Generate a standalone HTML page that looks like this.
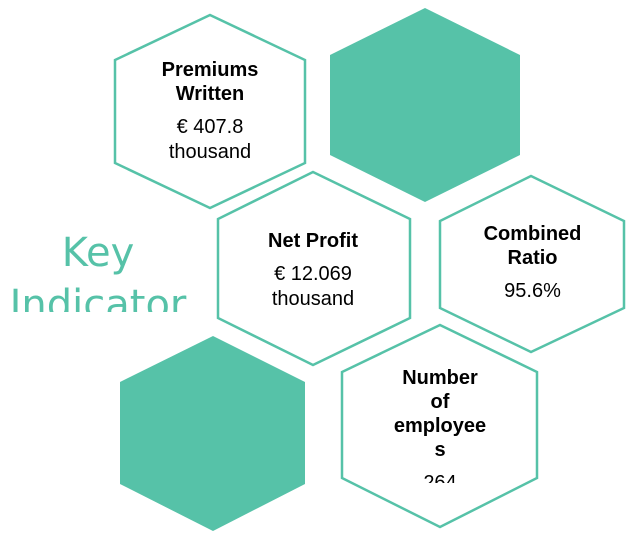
<!DOCTYPE html>
<html><head><meta charset="utf-8"><style>
body{margin:0;width:633px;height:537px;background:#fff;position:relative;overflow:hidden;font-family:"Liberation Sans",Arial,sans-serif}
svg{position:absolute;left:0;top:0}
.t{position:absolute;text-align:center;color:#000;font-size:20px;line-height:25px;overflow:hidden}
.t b{display:block;font-size:20px;line-height:24px;margin-bottom:9px}
</style></head><body>
<svg width="633" height="537">
<g fill="#fff" stroke="#56c2a8" stroke-width="2.5">
<polygon points="210,15 115,60 115,163 210,208 305,163 305,60"/>
<polygon points="313,172 218,219 218,318 313,365 410,318 410,219"/>
<polygon points="531,176 440,221 440,308 531,352 624,308 624,221"/>
<polygon points="440,325 342,372 342,478 440,527 537,478 537,372"/>
</g>
<g fill="#56c2a8">
<polygon points="425,8 330,55 330,155 425,202 520,155 520,55"/>
<polygon points="213,336 120,382 120,484 213,531 305,484 305,382"/>
</g>
</svg>
<div style="position:absolute;left:0;top:227px;width:196px;height:85px;overflow:hidden;text-align:center;color:#56c2a8;font-size:40px;line-height:52px;font-family:'DejaVu Sans','Liberation Sans',sans-serif">Key<br>Indicator</div>
<div class="t" style="left:130px;top:58px;width:160px"><b>Premiums<br>Written</b>€ 407.8<br>thousand</div>
<div class="t" style="left:228px;top:229px;width:170px"><b>Net Profit</b>€ 12.069<br>thousand</div>
<div class="t" style="left:455px;top:222px;width:155px"><b>Combined<br>Ratio</b>95.6%</div>
<div class="t" style="left:380px;top:366px;width:120px;height:117px"><b>Number<br>of<br>employee<br>s</b>264</div>
</body></html>
